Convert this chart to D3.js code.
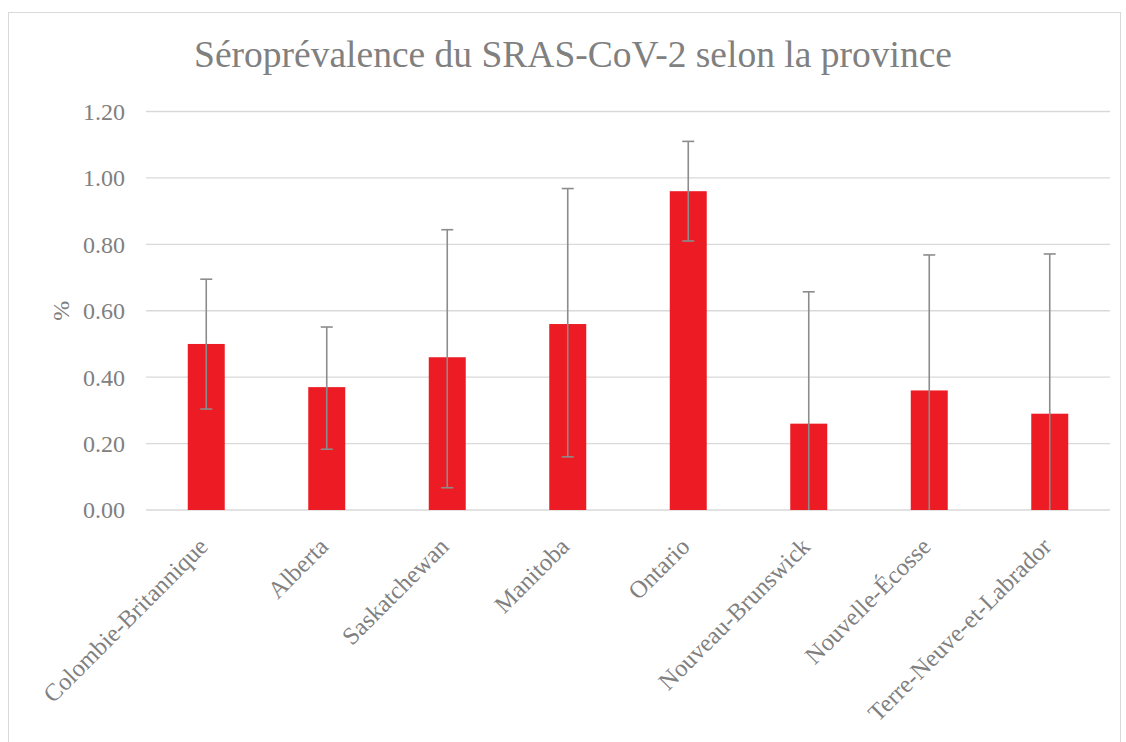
<!DOCTYPE html>
<html>
<head>
<meta charset="utf-8">
<script src="https://cdn.jsdelivr.net/npm/d3@7"></script>
<style>
  body { margin: 0; background: #fff; }
  text { font-family: "Liberation Serif", "Times New Roman", serif; fill: #808080; }
</style>
</head>
<body>
<script>
const provinces = ['Colombie-Britannique', 'Alberta', 'Saskatchewan', 'Manitoba', 'Ontario',
  'Nouveau-Brunswick', 'Nouvelle-Écosse', 'Terre-Neuve-et-Labrador'];
const prevalence = [0.50, 0.37, 0.46, 0.56, 0.96, 0.26, 0.36, 0.29];
const lowerCI = [0.304, 0.183, 0.067, 0.16, 0.81, 0, 0, 0];
const upperCI = [0.695, 0.551, 0.844, 0.968, 1.11, 0.657, 0.768, 0.771];
const yTicks = [0, 0.2, 0.4, 0.6, 0.8, 1.0, 1.2];

const width = 1126;
const height = 742;
const margin = {left: 146, right: 16, top: 111.5, bottom: 232};

const svg = d3.select('body').append('svg')
    .attr('width', width)
    .attr('height', height);

// chart frame
svg.append('rect')
    .attr('x', 8.5)
    .attr('y', 12.5)
    .attr('width', 1112)
    .attr('height', 740)
    .attr('fill', 'none')
    .attr('stroke', '#d9d9d9');

const xScale = d3.scaleBand()
    .domain(provinces)
    .range([margin.left, width - margin.right]);

const yScale = d3.scaleLinear()
    .domain([0, 1.2])
    .range([height - margin.bottom, margin.top]);

const barW = xScale.bandwidth() * 0.307;

// gridlines
svg.append('g')
    .selectAll('line')
    .data(yTicks)
    .enter()
    .append('line')
    .attr('x1', margin.left)
    .attr('x2', width - margin.right)
    .attr('y1', d => yScale(d))
    .attr('y2', d => yScale(d))
    .attr('stroke', '#d9d9d9')
    .attr('stroke-width', 1.3);

// y tick labels
svg.append('g')
    .selectAll('text')
    .data(yTicks)
    .enter()
    .append('text')
    .text(d => d3.format('.2f')(d))
    .attr('x', 125)
    .attr('y', d => yScale(d))
    .attr('dy', '0.35em')
    .attr('text-anchor', 'end')
    .style('font-size', '24px');

// bars
svg.append('g')
    .selectAll('rect')
    .data(provinces)
    .enter()
    .append('rect')
    .attr('x', d => xScale(d) + xScale.bandwidth() / 2 - barW / 2)
    .attr('width', barW)
    .attr('y', (d, i) => yScale(prevalence[i]))
    .attr('height', (d, i) => yScale(0) - yScale(prevalence[i]))
    .attr('fill', '#ed1c24');

// error bars
const errG = svg.append('g')
    .attr('stroke', '#8c8c8c')
    .attr('stroke-width', 1.6);

provinces.forEach((p, i) => {
    const cx = xScale(p) + xScale.bandwidth() / 2;
    errG.append('line')
        .attr('x1', cx).attr('x2', cx)
        .attr('y1', yScale(upperCI[i]))
        .attr('y2', yScale(lowerCI[i]));
    errG.append('line')
        .attr('x1', cx - 6).attr('x2', cx + 6)
        .attr('y1', yScale(upperCI[i]))
        .attr('y2', yScale(upperCI[i]));
    if (lowerCI[i] > 0) {
        errG.append('line')
            .attr('x1', cx - 6).attr('x2', cx + 6)
            .attr('y1', yScale(lowerCI[i]))
            .attr('y2', yScale(lowerCI[i]));
    }
});

// category labels
svg.append('g')
    .selectAll('text')
    .data(provinces)
    .enter()
    .append('text')
    .text(d => d)
    .attr('text-anchor', 'end')
    .attr('transform', d => `translate(${xScale(d) + xScale.bandwidth() / 2 + 3}, ${yScale(0) + 38}) rotate(-45)`)
    .style('font-size', '24.5px');

// y axis title
svg.append('text')
    .text('%')
    .attr('text-anchor', 'middle')
    .attr('transform', `translate(69, ${yScale(0.6)}) rotate(-90)`)
    .style('font-size', '24px');

// title
svg.append('text')
    .text('Séroprévalence du SRAS-CoV-2 selon la province')
    .attr('x', 573)
    .attr('y', 67)
    .attr('text-anchor', 'middle')
    .style('font-size', '37.5px');
</script>
</body>
</html>
